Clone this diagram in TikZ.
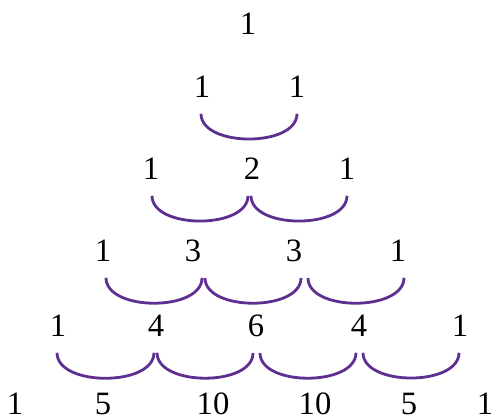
\documentclass[tikz,border=0pt]{standalone}
\usepackage{fontspec}
\setmainfont{Liberation Serif}
\usetikzlibrary{calc}
\definecolor{arcpurple}{HTML}{5E2F91}
\tikzset{
  num/.style={inner sep=0pt, outer ysep=8pt, font=\fontsize{16.3}{18}\selectfont},
  lastnum/.style={num, outer ysep=0pt},
  bowl/.style={draw=arcpurple, line width=1.4pt, out=-90, in=-90, looseness=0.9},
}

\begin{document}
\begin{tikzpicture}[x=0.5pt, y=-0.5pt]
  \useasboundingbox (0,0) rectangle (494,419);

  % row 0 and 1
  \node[num] (r00) at (248, 24) {1};
  \node[num] (r10) at (202, 87) {1};
  \node[num] (r11) at (297, 87) {1};
  % row 2
  \node[num] (r20) at (151,169) {1};
  \node[num] (r21) at (252,169) {2};
  \node[num] (r22) at (347,169) {1};
  % row 3
  \node[num] (r30) at (103,251) {1};
  \node[num] (r31) at (193,251) {3};
  \node[num] (r32) at (294,251) {3};
  \node[num] (r33) at (398,251) {1};
  % row 4
  \node[num] (r40) at ( 58,326) {1};
  \node[num] (r41) at (156,326) {4};
  \node[num] (r42) at (256,326) {6};
  \node[num] (r43) at (359,326) {4};
  \node[num] (r44) at (460,326) {1};
  % row 5
  \node[lastnum] (r50) at ( 15,404) {1};
  \node[lastnum] (r51) at (103,404) {5};
  \node[lastnum] (r52) at (213,404) {10};
  \node[lastnum] (r53) at (315,404) {10};
  \node[lastnum] (r54) at (409,404) {5};
  \node[lastnum] (r55) at (485,404) {1};

  % the sums
  \draw[bowl] ($(r10.south)+(-1,0)$) to ($(r11.south)+(0,0)$);
  \draw[bowl] ($(r20.south)+(1,0)$) to ($(r21.south)+(-4,0)$);
  \draw[bowl] ($(r21.south)+(-1,0)$) to ($(r22.south)+(0,0)$);
  \draw[bowl] ($(r30.south)+(3,0)$) to ($(r31.south)+(9,0)$);
  \draw[bowl] ($(r31.south)+(12,0)$) to ($(r32.south)+(7,0)$);
  \draw[bowl] ($(r32.south)+(14,0)$) to ($(r33.south)+(6,0)$);
  \draw[bowl] ($(r40.south)+(-1,0)$) to ($(r41.south)+(-2,0)$);
  \draw[bowl] ($(r41.south)+(1,0)$) to ($(r42.south)+(-3,0)$);
  \draw[bowl] ($(r42.south)+(4,0)$) to ($(r43.south)+(-3,0)$);
  \draw[bowl] ($(r43.south)+(4,0)$) to ($(r44.south)+(-1,0)$);
\end{tikzpicture}
\end{document}
